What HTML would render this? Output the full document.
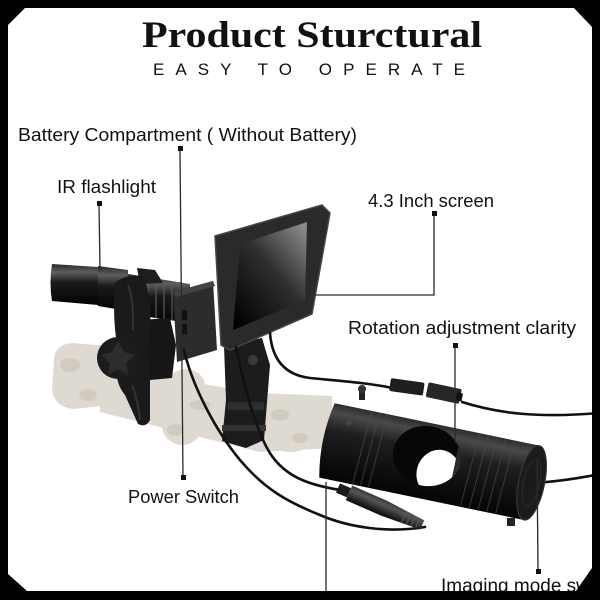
<!DOCTYPE html>
<html><head><meta charset="utf-8"><style>html,body{margin:0;padding:0;background:#000}svg{display:block}</style></head>
<body>
<svg width="600" height="600" viewBox="0 0 600 600" xmlns="http://www.w3.org/2000/svg">
<defs>
<linearGradient id="fl" x1="0" y1="0" x2="0" y2="1">
<stop offset="0" stop-color="#2a2a2a"/><stop offset="0.2" stop-color="#5e5e5e"/><stop offset="0.45" stop-color="#1a1a1a"/><stop offset="1" stop-color="#030303"/>
</linearGradient>
<linearGradient id="cy" x1="0" y1="0" x2="0" y2="1">
<stop offset="0" stop-color="#2c2c2c"/><stop offset="0.12" stop-color="#4a4a4a"/><stop offset="0.35" stop-color="#1f1f1f"/><stop offset="0.75" stop-color="#0e0e0e"/><stop offset="1" stop-color="#050505"/>
</linearGradient>
<linearGradient id="dp" x1="0.9" y1="0" x2="0.1" y2="1">
<stop offset="0" stop-color="#8a8a8a"/><stop offset="0.45" stop-color="#2e2e2e"/><stop offset="1" stop-color="#000"/>
</linearGradient>
<linearGradient id="pl" x1="0" y1="0" x2="0" y2="1">
<stop offset="0" stop-color="#3a3a3a"/><stop offset="0.3" stop-color="#555"/><stop offset="1" stop-color="#080808"/>
</linearGradient>
<clipPath id="win"><ellipse cx="103" cy="-5" rx="34" ry="30"/></clipPath>
</defs>

<rect width="600" height="600" fill="#fff"/>

<!-- Titles -->
<text x="142" y="47" font-family="Liberation Serif, serif" font-weight="bold" font-size="37" textLength="340" lengthAdjust="spacingAndGlyphs" fill="#111">Product Sturctural</text>
<text x="153" y="75" font-family="Liberation Sans, sans-serif" font-size="17" textLength="312" lengthAdjust="spacing" fill="#111">EASY TO OPERATE</text>

<!-- Labels -->
<g font-family="Liberation Sans, sans-serif" font-size="18" fill="#111">
<text x="18" y="141" textLength="339" lengthAdjust="spacingAndGlyphs">Battery Compartment ( Without Battery)</text>
<text x="57" y="193" textLength="99" lengthAdjust="spacingAndGlyphs">IR flashlight</text>
<text x="368" y="207" textLength="126" lengthAdjust="spacingAndGlyphs">4.3 Inch screen</text>
<text x="348" y="334" textLength="228" lengthAdjust="spacingAndGlyphs">Rotation adjustment clarity</text>
<text x="128" y="503" textLength="111" lengthAdjust="spacingAndGlyphs">Power Switch</text>
<text x="441" y="592" font-size="19">Imaging mode switch</text>
</g>

<!-- Camo scope -->
<g fill="#dedad2">
<path d="M54,360 Q54,345 72,343 L106,346 L110,405 L74,409 Q54,407 52,390 Z"/>
<polygon points="100,368 260,393 332,396 332,448 260,452 100,412"/>
<ellipse cx="182" cy="425" rx="20" ry="20"/>
<ellipse cx="186" cy="386" rx="19" ry="17"/>
<ellipse cx="290" cy="424" rx="32" ry="28"/>
</g>
<g fill="#c6bdae" opacity="0.5">
<ellipse cx="70" cy="365" rx="10" ry="7"/>
<ellipse cx="88" cy="395" rx="9" ry="6"/>
<ellipse cx="175" cy="430" rx="8" ry="6"/>
<ellipse cx="200" cy="405" rx="10" ry="5"/>
<ellipse cx="280" cy="415" rx="9" ry="6"/>
<ellipse cx="300" cy="438" rx="8" ry="5"/>
<ellipse cx="140" cy="400" rx="8" ry="5"/>
</g>

<!-- Flashlight -->
<path d="M52,264 L98,267 L98,305 L52,301 Q49,283 52,264 Z" fill="url(#fl)"/>
<polygon points="98,266 128,270 128,311 98,306" fill="url(#fl)"/>
<polygon points="128,274 190,284 190,323 128,314" fill="url(#fl)"/>
<g stroke="#5a5a5a" stroke-width="1.2">
<line x1="140" y1="277" x2="140" y2="316"/><line x1="148" y1="278" x2="148" y2="317"/><line x1="156" y1="279" x2="156" y2="318"/><line x1="164" y1="280" x2="164" y2="319"/><line x1="172" y1="281" x2="172" y2="320"/><line x1="180" y1="282" x2="180" y2="321"/>
</g>

<!-- Clamp -->
<polygon points="137,268 155,270 163,283 140,284" fill="#1e1e1e"/>
<path d="M140,320 L170,318 L176,345 L172,378 L150,380 Z" fill="#161616"/>
<path d="M115,283 Q125,274 142,276 Q152,290 150,330 Q148,350 150,372 L150,420 Q146,428 138,424 L125,395 Q112,380 118,350 Q112,320 115,283 Z" fill="#1a1a1a"/>
<path d="M128,285 Q134,300 133,330" stroke="#333" stroke-width="2" fill="none"/>
<path d="M132,385 Q138,400 140,420" stroke="#333" stroke-width="2" fill="none"/>
<circle cx="118" cy="358" r="21" fill="#1c1c1c"/>
<polygon points="118,341 124,352 135,355 126,363 128,375 118,369 108,375 110,363 101,355 112,352" fill="#2d2d2d"/>

<!-- Screen mount bracket -->
<polygon points="224,346 262,338 270,365 264,440 246,448 222,441 226,400" fill="#1c1c1c"/>
<circle cx="253" cy="360" r="5" fill="#3a3a3a"/>
<rect x="228" y="402" width="36" height="8" fill="#2e2e2e"/>
<rect x="222" y="425" width="44" height="6" fill="#333"/>

<!-- Battery box -->
<polygon points="173,292 213,281 217,350 177,362" fill="#2c2c2c"/>
<polygon points="173,292 213,281 215,286 176,297" fill="#444"/>
<rect x="181" y="310" width="6" height="10" fill="#111"/>
<rect x="181" y="324" width="6" height="10" fill="#111"/>

<!-- Screen -->
<polygon points="215,236 322,205 330,213 312,314 230,350 221,345" fill="#2a2a2a" stroke="#474747" stroke-width="1.5"/>
<polygon points="240,244 307,222 305,300 233,330" fill="url(#dp)"/>

<!-- Cables -->
<g fill="none" stroke="#111" stroke-width="2.6" stroke-linecap="round">
<path d="M270,333 C272,360 285,375 310,378 C340,381 370,383 392,388"/>
<path d="M462,402 C500,414 540,418 600,413"/>
<path d="M530,483 C555,482 580,478 600,474"/>
<path d="M184,350 C192,385 215,430 240,460 C265,490 290,503 320,515 C350,528 390,533 425,527"/>
<path d="M236,347 C245,390 258,440 275,460 C290,478 310,485 340,490"/>
</g>
<g transform="translate(390,385) rotate(8)"><rect x="0" y="-7" width="34" height="13" rx="2" fill="#1e1e1e"/></g>
<g transform="translate(427,390) rotate(12)"><rect x="0" y="-8" width="34" height="15" rx="2" fill="#262626"/><rect x="30" y="-4" width="6" height="8" fill="#111"/></g>

<!-- Cylinder -->
<g transform="translate(325,440) rotate(11.7)">
<path d="M2,-38 L211,-38 L211,38 L2,38 Q-6,0 2,-38 Z" fill="url(#cy)"/>
<g stroke="#4a4a4a" stroke-width="0.9" opacity="0.8">
<line x1="40" y1="-37" x2="36" y2="37"/><line x1="48" y1="-37" x2="44" y2="37"/><line x1="56" y1="-37" x2="52" y2="37"/>
<line x1="150" y1="-37" x2="146" y2="37"/><line x1="159" y1="-37" x2="155" y2="37"/><line x1="168" y1="-37" x2="164" y2="37"/><line x1="177" y1="-37" x2="173" y2="37"/><line x1="186" y1="-37" x2="182" y2="37"/>
</g>
<ellipse cx="103" cy="-5" rx="34" ry="30" fill="#070707"/>
<g clip-path="url(#win)">
<ellipse cx="118" cy="10" rx="22" ry="24" fill="#fff"/>
<rect x="132" y="-22" width="8" height="44" fill="#2a2a2a"/>
</g>
<ellipse cx="211" cy="0" rx="13" ry="38" fill="#1b1b1b" stroke="#3a3a3a" stroke-width="1"/>
<ellipse cx="211" cy="0" rx="8" ry="24" fill="none" stroke="#2c2c2c" stroke-width="1"/>
<circle cx="20" cy="-22" r="3" fill="#444"/>
</g>
<rect x="359" y="388" width="6" height="12" fill="#222"/><circle cx="362" cy="389" r="4" fill="#333"/>
<rect x="507" y="518" width="8" height="8" fill="#222"/>

<!-- Power plug -->
<g transform="translate(338,488) rotate(23.7)">
<rect x="0" y="-5" width="12" height="10" fill="#1a1a1a"/>
<path d="M12,-8 L50,-8 L92,-5 L92,5 L50,8 L12,8 Z" fill="url(#pl)"/>
<g stroke="#555" stroke-width="1.2"><line x1="72" y1="-6" x2="72" y2="6"/><line x1="77" y1="-6" x2="77" y2="6"/><line x1="82" y1="-5" x2="82" y2="5"/><line x1="87" y1="-5" x2="87" y2="5"/></g>
</g>

<!-- Leader lines -->
<g stroke="#2a2a2a" stroke-width="1.3" fill="none">
<line x1="180" y1="150" x2="183" y2="477"/>
<line x1="99" y1="204" x2="100" y2="270"/>
<polyline points="434,213 434,295 307,295"/>
<line x1="455" y1="345" x2="455" y2="443"/>
<line x1="537" y1="458" x2="538" y2="571"/>
<line x1="326" y1="482" x2="326" y2="600"/>
</g>
<g fill="#111">
<rect x="178" y="146" width="5" height="5"/>
<rect x="97" y="201" width="5" height="5"/>
<rect x="432" y="211" width="5" height="5"/>
<rect x="453" y="343" width="5" height="5"/>
<rect x="181" y="475" width="5" height="5"/>
<rect x="536" y="569" width="5" height="5"/>
</g>

<!-- Frame -->
<path fill-rule="evenodd" fill="#000" d="M0,0 H600 V600 H0 Z M25,8 L574,8 L592,27 L592,568 L576,591 L27,591 L8,574 L8,25 Z"/>
</svg>
</body></html>
